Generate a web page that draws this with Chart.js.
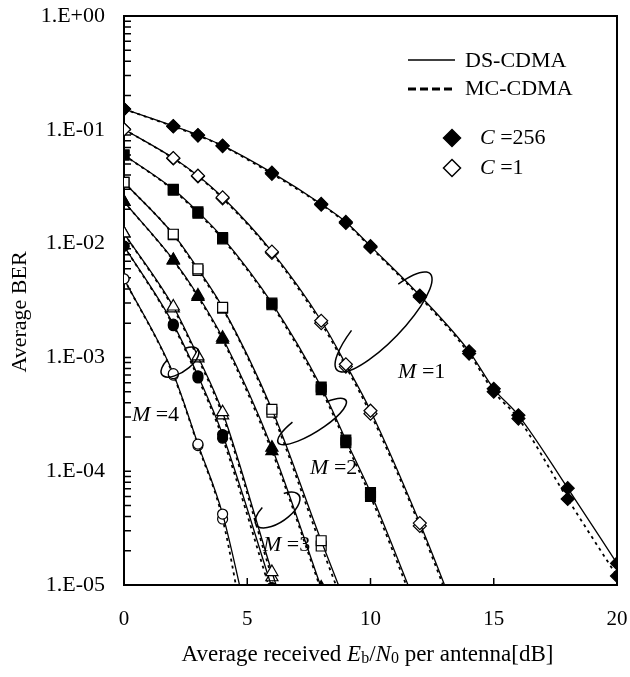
<!DOCTYPE html>
<html>
<head>
<meta charset="utf-8">
<script src="https://cdn.jsdelivr.net/npm/chart.js@4.4.0/dist/chart.umd.min.js"></script>
<style>
  html, body { margin: 0; padding: 0; background: #fff; }
  canvas { display: block; }
</style>
</head>
<body>
<canvas id="chart" width="630" height="677"></canvas>
<script>
// Average received Eb/N0 [dB] and BER values.
// DS = DS-CDMA (solid), MC = MC-CDMA (dashed)
const m1C256X  = [0, 2, 3, 4, 6, 8, 9, 10, 12, 14, 15, 16, 18, 20];
const m1C256DS = [0.152, 0.108, 0.09, 0.0725, 0.042, 0.0223, 0.0155, 0.0095, 0.0035, 0.00113, 0.00053, 0.00031, 0.000071, 0.0000155];
const m1C256MC = [0.152, 0.107, 0.089, 0.072, 0.041, 0.022, 0.0152, 0.0093, 0.0034, 0.00108, 0.0005, 0.00029, 0.000057, 0.000012];

const m1C1X  = [0, 2, 3, 4, 6, 8, 9, 10, 12, 14];
const m1C1DS = [0.101, 0.0565, 0.0395, 0.0255, 0.0085, 0.0021, 0.00087, 0.00034, 0.000035, 0.0000028];
const m1C1MC = [0.101, 0.056, 0.039, 0.025, 0.0083, 0.002, 0.00083, 0.00032, 0.000033, 0.0000025];

const m2C256X  = [0, 2, 3, 4, 6, 8, 9, 10, 12];
const m2C256DS = [0.06, 0.030, 0.019, 0.0113, 0.003, 0.00055, 0.000188, 0.000065, 0.0000055];
const m2C256MC = [0.06, 0.0295, 0.0185, 0.011, 0.0029, 0.00052, 0.000178, 0.00006, 0.000005];

const m2C1X  = [0, 2, 3, 4, 6, 8, 10];
const m2C1DS = [0.0346, 0.0121, 0.006, 0.00275, 0.00035, 0.0000245, 0.0000019];
const m2C1MC = [0.0346, 0.012, 0.0058, 0.0027, 0.00033, 0.000022, 0.0000016];

const m3C256X  = [0, 2, 3, 4, 6, 8];
const m3C256DS = [0.0233, 0.0072, 0.0035, 0.00149, 0.000161, 0.0000095];
const m3C256MC = [0.0233, 0.0071, 0.0034, 0.00143, 0.00015, 0.000009];

const m3C1X  = [0, 2, 3, 4, 6, 8];
const m3C1DS = [0.0123, 0.0028, 0.00102, 0.00033, 0.000013, 0.0000006];
const m3C1MC = [0.0123, 0.0027, 0.00098, 0.00031, 0.0000117, 0.0000005];

const m4C256X  = [0, 2, 3, 4, 6];
const m4C256DS = [0.0095, 0.00196, 0.00069, 0.00021, 0.0000095];
const m4C256MC = [0.0095, 0.0019, 0.00066, 0.000195, 0.000008];

const m4C1X  = [0, 2, 3, 4, 5];
const m4C1DS = [0.0049, 0.00072, 0.000173, 0.000042, 0.000005];
const m4C1MC = [0.0049, 0.0007, 0.000168, 0.000038, 0.0000028];

const yTickValues = [1e-5, 1e-4, 1e-3, 1e-2, 1e-1, 1];
const xTickValues = [0, 5, 10, 15, 20];

const FONT = "'Liberation Serif', 'Times New Roman', serif";

const series = [
  { x: m1C256X, ds: m1C256DS, mc: m1C256MC, style: 'rectRot',  r: 6.5, filled: true },
  { x: m1C1X,   ds: m1C1DS,   mc: m1C1MC,   style: 'rectRot',  r: 6.5, filled: false },
  { x: m2C256X, ds: m2C256DS, mc: m2C256MC, style: 'rect',     r: 7,   filled: true },
  { x: m2C1X,   ds: m2C1DS,   mc: m2C1MC,   style: 'rect',     r: 7,   filled: false },
  { x: m3C256X, ds: m3C256DS, mc: m3C256MC, style: 'triangle', r: 7,   filled: true },
  { x: m3C1X,   ds: m3C1DS,   mc: m3C1MC,   style: 'triangle', r: 7,   filled: false },
  { x: m4C256X, ds: m4C256DS, mc: m4C256MC, style: 'circle',   r: 5,   filled: true },
  { x: m4C1X,   ds: m4C1DS,   mc: m4C1MC,   style: 'circle',   r: 5,   filled: false },
];

const datasets = [];
['ds', 'mc'].forEach(kind => {
  series.forEach(s => {
    datasets.push({
      label: kind,
      data: s.x.map((x, i) => ({ x: x, y: s[kind][i] })),
      borderColor: '#000',
      borderWidth: kind === 'ds' ? 1.3 : 1.8,
      borderDash: kind === 'mc' ? [3, 4] : [],
      pointStyle: s.style,
      pointRadius: s.r,
      pointBackgroundColor: s.filled ? '#000' : '#fff',
      pointBorderColor: '#000',
      pointBorderWidth: 1.2,
      cubicInterpolationMode: 'monotone',
      fill: false,
    });
  });
});

// grouping ellipses: centre in data coords, radii in px
const groups = [
  { m: '1', x: 10.53, y: 2.05e-3, a: 67, b: 19, rot: -46, lx: 11.12, ly: 7.4e-4 },
  { m: '2', x: 7.63,  y: 2.73e-4, a: 40, b: 11, rot: -32, lx: 7.55,  ly: 1.07e-4 },
  { m: '3', x: 6.23,  y: 4.56e-5, a: 26, b: 12, rot: -35, lx: 5.64,  ly: 2.25e-5 },
  { m: '4', x: 2.27,  y: 9.1e-4,  a: 22, b: 10, rot: -35, lx: 0.32,  ly: 3.12e-4 },
];

function drawRuns(ctx, runs, x, y, align) {
  let total = 0;
  runs.forEach(r => {
    ctx.font = (r.italic ? 'italic ' : '') + (r.size || 22) + 'px ' + FONT;
    r.w = ctx.measureText(r.t).width;
    total += r.w;
  });
  let cx = align === 'center' ? x - total / 2 : x;
  ctx.textAlign = 'left';
  ctx.textBaseline = 'middle';
  runs.forEach(r => {
    ctx.font = (r.italic ? 'italic ' : '') + (r.size || 22) + 'px ' + FONT;
    ctx.fillText(r.t, cx, y + (r.dy || 0));
    cx += r.w;
  });
}

function diamond(ctx, x, y, r, filled) {
  ctx.beginPath();
  ctx.moveTo(x, y - r); ctx.lineTo(x + r, y); ctx.lineTo(x, y + r); ctx.lineTo(x - r, y);
  ctx.closePath();
  ctx.fillStyle = filled ? '#000' : '#fff';
  ctx.fill();
  ctx.lineWidth = 1.5;
  ctx.stroke();
}

// no extra room for overhanging tick labels: the plot box is fixed
function noPadding(s) {
  s.paddingTop = 0; s.paddingBottom = 0; s.paddingLeft = 0; s.paddingRight = 0;
}

const overlay = {
  id: 'overlay',
  beforeDatasetsDraw(chart) {
    const { ctx, chartArea: a, scales: { x, y } } = chart;
    ctx.save();
    ctx.strokeStyle = '#000';
    ctx.lineWidth = 2;
    ctx.strokeRect(a.left, a.top, a.right - a.left, a.bottom - a.top);
    ctx.lineWidth = 1.5;
    ctx.beginPath();
    for (let e = -5; e < 0; e++) {
      for (let k = 1; k < 10; k++) {
        const py = y.getPixelForValue(k * Math.pow(10, e));
        ctx.moveTo(a.left, py);
        ctx.lineTo(a.left + 7, py);
      }
    }
    xTickValues.forEach(v => {
      const px = x.getPixelForValue(v);
      ctx.moveTo(px, a.bottom);
      ctx.lineTo(px, a.bottom - 7);
    });
    ctx.stroke();
    ctx.restore();
  },
  afterDatasetsDraw(chart) {
    const { ctx, chartArea: a, scales: { x, y } } = chart;
    ctx.save();
    ctx.strokeStyle = '#000';
    ctx.fillStyle = '#000';

    // ellipses with a gap on the upper-left side
    groups.forEach(g => {
      ctx.beginPath();
      ctx.lineWidth = 1.5;
      ctx.ellipse(x.getPixelForValue(g.x), y.getPixelForValue(g.y), g.a, g.b,
        g.rot * Math.PI / 180, -56 * Math.PI / 180, 245 * Math.PI / 180);
      ctx.stroke();
      drawRuns(ctx, [{ t: 'M', italic: true }, { t: ' =' + g.m }],
        x.getPixelForValue(g.lx), y.getPixelForValue(g.ly), 'left');
    });

    // legend
    ctx.lineWidth = 1.5;
    ctx.beginPath();
    ctx.moveTo(408, 60); ctx.lineTo(455, 60);
    ctx.stroke();
    ctx.lineWidth = 3;
    ctx.setLineDash([8, 4]);
    ctx.beginPath();
    ctx.moveTo(408, 89); ctx.lineTo(455, 89);
    ctx.stroke();
    ctx.setLineDash([]);
    ctx.fillStyle = '#000';
    drawRuns(ctx, [{ t: 'DS-CDMA' }], 465, 61, 'left');
    drawRuns(ctx, [{ t: 'MC-CDMA' }], 465, 89, 'left');
    diamond(ctx, 452, 138, 8.5, true);
    diamond(ctx, 452, 168, 8.5, false);
    ctx.fillStyle = '#000';
    drawRuns(ctx, [{ t: 'C', italic: true }, { t: ' =256' }], 480, 138, 'left');
    drawRuns(ctx, [{ t: 'C', italic: true }, { t: ' =1' }], 480, 168, 'left');

    // axis titles
    drawRuns(ctx, [
      { t: 'Average received ', size: 23 },
      { t: 'E', italic: true, size: 23 },
      { t: 'b', size: 16, dy: 4 },
      { t: '/', size: 23 },
      { t: 'N', italic: true, size: 23 },
      { t: '0', size: 16, dy: 4 },
      { t: ' per antenna[dB]', size: 23 },
    ], (a.left + a.right) / 2 - 3, 655, 'center');

    ctx.translate(20, 312);
    ctx.rotate(-Math.PI / 2);
    drawRuns(ctx, [{ t: 'Average BER' }], 0, 0, 'center');
    ctx.restore();
  }
};

new Chart(document.getElementById('chart').getContext('2d'), {
  type: 'line',
  data: { datasets: datasets },
  options: {
    responsive: false,
    animation: false,
    layout: { autoPadding: false, padding: { left: 0, right: 13, top: 16, bottom: 0 } },
    plugins: { legend: { display: false }, tooltip: { enabled: false } },
    scales: {
      x: {
        type: 'linear',
        min: 0,
        max: 20,
        afterBuildTicks: s => { s.ticks = xTickValues.map(v => ({ value: v })); },
        ticks: { color: '#000', font: { family: FONT, size: 21 }, padding: 22, maxRotation: 0 },
        grid: { drawOnChartArea: false, drawTicks: false },
        border: { display: false },
        afterFit: s => { s.height = 92; noPadding(s); },
      },
      y: {
        type: 'logarithmic',
        min: 1e-5,
        max: 1,
        afterBuildTicks: s => { s.ticks = yTickValues.map(v => ({ value: v })); },
        ticks: {
          color: '#000',
          font: { family: FONT, size: 22 },
          padding: 19,
          autoSkip: false,
          callback: v => {
            const e = Math.round(Math.log10(v));
            return '1.E' + (e >= 0 ? '+' : '-') + String(Math.abs(e)).padStart(2, '0');
          },
        },
        grid: { drawOnChartArea: false, drawTicks: false },
        border: { display: false },
        afterFit: s => { s.width = 124; noPadding(s); },
      },
    },
  },
  plugins: [overlay],
});
</script>
</body>
</html>
